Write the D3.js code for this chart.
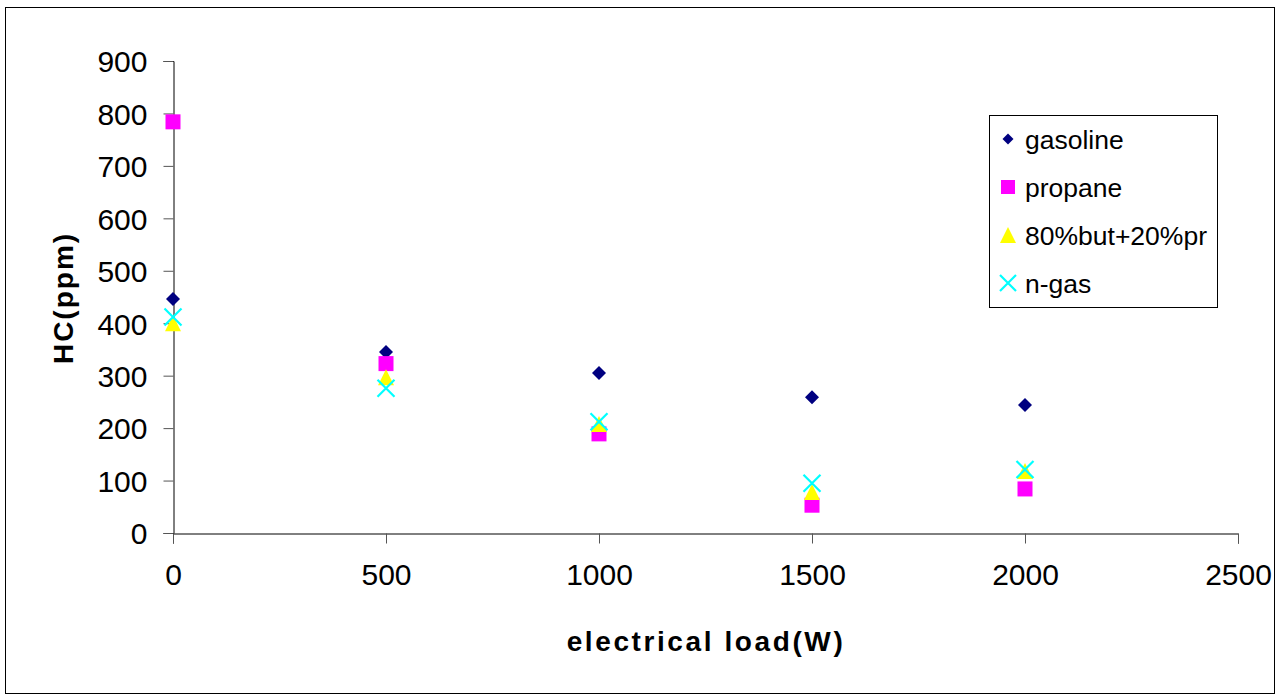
<!DOCTYPE html>
<html>
<head>
<meta charset="utf-8">
<script src="https://cdn.jsdelivr.net/npm/d3@7"></script>
<style>
    body { margin: 0; background: #fff; }
    text { font-family: Arial, "Liberation Sans", sans-serif; }
</style>
</head>
<body>
<script>
(function () {

    //data
    var loads = [0, 500, 1000, 1500, 2000];
    var seriesNames = ["gasoline", "propane", "80%but+20%pr", "n-gas"];
    var gasoline = [446, 345, 305, 259, 244];
    var propane = [784, 323, 189, 53, 84];
    var butPr = [400, 297, 208, 78, 118];
    var nGas = [412, 276, 212, 95, 121];
    var xTicks = [0, 500, 1000, 1500, 2000, 2500];
    var yTicks = [0, 100, 200, 300, 400, 500, 600, 700, 800, 900];

    var seriesValues = [gasoline, propane, butPr, nGas];
    var colors = ["#000080", "#ff00ff", "#ffff00", "#00ffff"];
    var shapes = ["diamond", "square", "triangle", "cross"];

    var width = 1282, height = 695;

    var svg = d3.select("body")
        .append("svg")
        .attr("width", width)
        .attr("height", height);

    //outer chart frame
    svg.append("rect")
        .attr("x", 5.5)
        .attr("y", 7.5)
        .attr("width", 1269)
        .attr("height", 686)
        .attr("fill", "#fff")
        .attr("stroke", "#000")
        .attr("stroke-width", 1);

    var x = d3.scaleLinear().domain([0, 2500]).range([173, 1238]);
    var y = d3.scaleLinear().domain([0, 900]).range([533, 61]);

    //axes
    var yAxis = svg.append("g")
        .attr("transform", "translate(173.5,0)")
        .call(d3.axisLeft(y).tickValues(yTicks).tickSize(10).tickPadding(16).tickFormat(d3.format("d")));

    var xAxis = svg.append("g")
        .attr("transform", "translate(0,533.5)")
        .call(d3.axisBottom(x).tickValues(xTicks).tickSize(10).tickPadding(20).tickFormat(d3.format("d")));

    [xAxis, yAxis].forEach(function (ax) {
        ax.select(".domain").attr("stroke", "#000");
        ax.selectAll(".tick line").attr("stroke", "#555");
        ax.selectAll(".tick text")
            .attr("fill", "#000")
            .style("font-size", "30px")
            .style("font-family", "Arial, 'Liberation Sans', sans-serif");
    });
    yAxis.selectAll(".tick text").attr("dy", "0.36em");

    //axis titles
    svg.append("text")
        .attr("x", 706)
        .attr("y", 651)
        .attr("text-anchor", "middle")
        .style("font-size", "28px")
        .style("font-weight", "bold")
        .style("letter-spacing", "2.6px")
        .text("electrical load(W)");

    svg.append("text")
        .attr("transform", "translate(73,298) rotate(-90)")
        .attr("text-anchor", "middle")
        .style("font-size", "28px")
        .style("font-weight", "bold")
        .style("letter-spacing", "2px")
        .text("HC(ppm)");

    //marker drawing
    function drawMarker(g, shape, color, cx, cy, s) {
        if (shape === "diamond") {
            g.append("path")
                .attr("d", "M" + cx + "," + (cy - s / 2) + "L" + (cx + s / 2) + "," + cy + "L" + cx + "," + (cy + s / 2) + "L" + (cx - s / 2) + "," + cy + "Z")
                .attr("fill", color);
        } else if (shape === "square") {
            g.append("rect")
                .attr("x", cx - s / 2).attr("y", cy - s / 2)
                .attr("width", s).attr("height", s)
                .attr("fill", color);
        } else if (shape === "triangle") {
            g.append("path")
                .attr("d", "M" + cx + "," + (cy - s / 2) + "L" + (cx + s / 2) + "," + (cy + s / 2) + "L" + (cx - s / 2) + "," + (cy + s / 2) + "Z")
                .attr("fill", color);
        } else {
            var h = s / 2;
            g.append("path")
                .attr("d", "M" + (cx - h) + "," + (cy - h) + "L" + (cx + h) + "," + (cy + h) + "M" + (cx + h) + "," + (cy - h) + "L" + (cx - h) + "," + (cy + h))
                .attr("stroke", color)
                .attr("stroke-width", 2.2)
                .attr("fill", "none");
        }
    }

    var sizes = [14, 15, 16, 17];
    var points = svg.append("g").attr("class", "points");
    seriesValues.forEach(function (vals, si) {
        vals.forEach(function (v, i) {
            drawMarker(points, shapes[si], colors[si], x(loads[i]), y(v), sizes[si]);
        });
    });

    //legend
    var legend = svg.append("g").attr("class", "legend");
    legend.append("rect")
        .attr("x", 989.5)
        .attr("y", 115.5)
        .attr("width", 228)
        .attr("height", 192)
        .attr("fill", "#fff")
        .attr("stroke", "#000");

    var legendSizes = [11, 14, 16, 16];
    seriesNames.forEach(function (name, i) {
        var ly = 139 + i * 48;
        drawMarker(legend, shapes[i], colors[i], 1008, ly, legendSizes[i]);
        legend.append("text")
            .attr("x", 1025)
            .attr("y", ly)
            .attr("dy", "0.36em")
            .style("font-size", "26.5px")
            .text(name);
    });
})();
</script>
</body>
</html>
